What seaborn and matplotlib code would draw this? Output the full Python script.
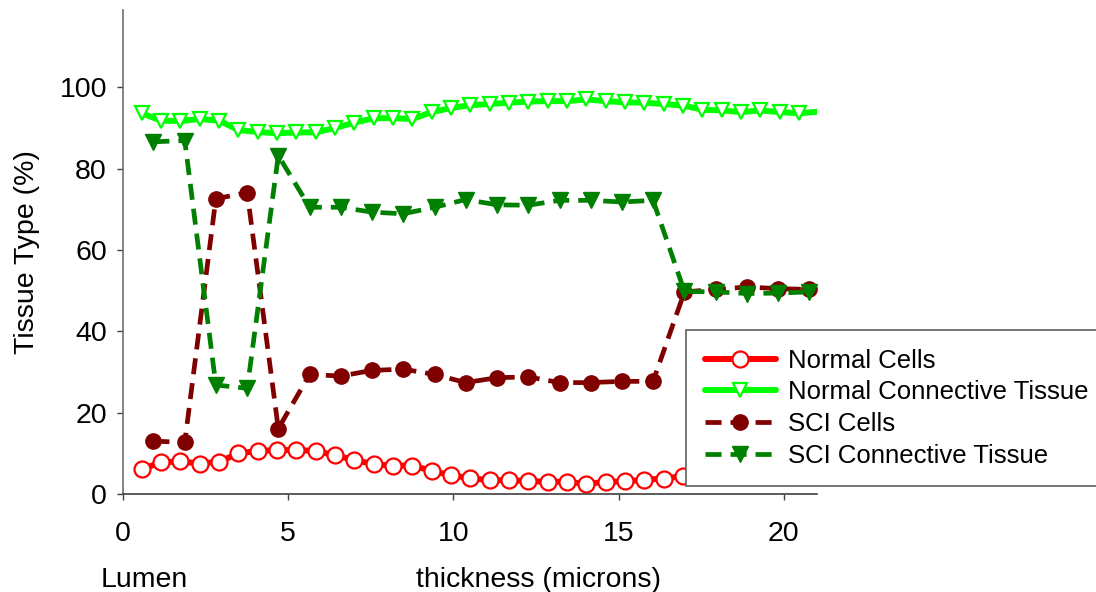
import matplotlib
matplotlib.use("Agg")
import matplotlib.pyplot as plt
import seaborn as sns
import pandas as pd

# Sampling positions across the tissue thickness (microns)
x_normal = [0.57, 1.15, 1.74, 2.32, 2.91, 3.49, 4.08, 4.66, 5.25, 5.83, 6.42, 7.00,
            7.59, 8.17, 8.76, 9.34, 9.93, 10.51, 11.10, 11.68, 12.27, 12.85, 13.44,
            14.02, 14.61, 15.19, 15.78, 16.36, 16.95, 17.53, 18.12, 18.70, 19.29,
            19.87, 20.46, 21.04]
x_sci = [0.92, 1.87, 2.81, 3.76, 4.70, 5.65, 6.59, 7.54, 8.48, 9.43, 10.37, 11.32,
         12.26, 13.21, 14.15, 15.10, 16.04, 16.99, 17.93, 18.88, 19.82, 20.77]

# Tissue type percentages
normal_cells = [6.1, 7.8, 8.0, 7.5, 7.9, 10.0, 10.6, 10.8, 10.8, 10.6, 9.5, 8.4,
                7.3, 7.0, 7.0, 5.7, 4.6, 3.9, 3.4, 3.4, 3.2, 3.0, 3.0, 2.5,
                3.0, 3.1, 3.5, 3.8, 4.4, 4.6, 4.8, 5.0, 5.1, 5.1, 5.2, 5.2]
normal_connective = [93.6, 91.8, 91.7, 92.2, 91.8, 89.5, 89.0, 88.7, 88.9, 88.9, 90.0,
                     91.3, 92.4, 92.4, 92.2, 93.9, 94.9, 95.6, 95.9, 96.2, 96.5, 96.6,
                     96.6, 97.0, 96.6, 96.3, 96.2, 95.9, 95.5, 94.5, 94.3, 93.9, 94.3,
                     93.9, 93.6, 94.0]
sci_cells = [13.0, 12.7, 72.6, 74.1, 16.1, 29.4, 29.0, 30.4, 30.7, 29.4, 27.4,
             28.6, 28.8, 27.4, 27.4, 27.7, 27.7, 49.7, 50.3, 50.9, 50.5, 50.3]
sci_connective = [86.6, 86.9, 26.8, 26.0, 83.2, 70.5, 70.5, 69.3, 68.9, 70.5, 72.4,
                  71.1, 71.0, 72.2, 72.2, 71.8, 72.2, 49.8, 49.7, 49.3, 49.4, 49.7]

series_labels = ["Normal Cells", "Normal Connective Tissue", "SCI Cells", "SCI Connective Tissue"]
x_ticks = [0, 5, 10, 15, 20]
y_ticks = [0, 20, 40, 60, 80, 100]

sns.set_theme(style="ticks")
plt.rcParams["font.family"] = ["Liberation Sans", "DejaVu Sans"]
plt.rcParams["text.color"] = "black"
plt.rcParams["axes.labelcolor"] = "black"

fig = plt.figure(figsize=(10.96, 5.92), dpi=100)
ax = fig.add_axes([0.1122, 0.1655, 0.6332, 0.8176])

normal_df = pd.DataFrame({"x": x_normal, "cells": normal_cells, "conn": normal_connective})
sci_df = pd.DataFrame({"x": x_sci, "cells": sci_cells, "conn": sci_connective})

styles = [
    (normal_df, "cells", series_labels[0], dict(color="#FF0000", marker="o", markersize=11.5,
                                               markerfacecolor="white", markeredgecolor="#FF0000",
                                               markeredgewidth=1.6, linewidth=4.3)),
    (normal_df, "conn", series_labels[1], dict(color="#00FF00", marker="v", markersize=10,
                                              markerfacecolor="white", markeredgecolor="#00FF00",
                                              markeredgewidth=1.6, linewidth=4.3)),
    (sci_df, "cells", series_labels[2], dict(color="#800000", marker="o", markersize=11,
                                            markerfacecolor="#800000", markeredgecolor="#800000",
                                            markeredgewidth=1, linewidth=3.4)),
    (sci_df, "conn", series_labels[3], dict(color="#008000", marker="v", markersize=11.5,
                                           markerfacecolor="#008000", markeredgecolor="#008000",
                                           markeredgewidth=1, linewidth=3.4)),
]

for df, col, label, kw in styles:
    sns.lineplot(data=df, x="x", y=col, ax=ax, label=label, estimator=None, sort=False, **kw)

lines = ax.get_lines()
for ln in lines[:2]:
    ln.set_solid_capstyle("round")
    ln.set_markevery(slice(0, 35))
for ln in lines[2:4]:
    ln.set_dashes([3.4, 1.9])

ax.set_xlim(0, 21)
ax.set_ylim(0, 119)
ax.set_xticks(x_ticks)
ax.set_yticks(y_ticks)

for side in ("top", "right"):
    ax.spines[side].set_visible(False)
ax.spines["left"].set_color("#707070")
ax.spines["bottom"].set_color("#404040")
for side in ("left", "bottom"):
    ax.spines[side].set_linewidth(1.2)

ax.tick_params(axis="both", direction="out", length=4.5, width=1.0, colors="#404040",
               labelcolor="black", labelsize=20.5)
ax.tick_params(axis="y", pad=7)
ax.tick_params(axis="x", pad=15)

ax.set_ylabel("Tissue Type (%)", fontsize=20.5, labelpad=14)
ax.set_xlabel("thickness (microns)", fontsize=20.5)
ax.xaxis.set_label_coords(0.599, -0.192)
ax.xaxis.label.set_va("baseline")
ax.text(0.031, -0.192, "Lumen", transform=ax.transAxes, fontsize=20.5,
        ha="center", va="baseline")

leg = ax.legend(loc="upper left", bbox_to_anchor=(686 / 1096, 1 - 330 / 592),
                bbox_transform=fig.transFigure, borderaxespad=0, fontsize=18.5,
                frameon=True, fancybox=False, framealpha=1, edgecolor="#606060",
                borderpad=0.72, labelspacing=0.3, handlelength=2.8, handletextpad=0.45,
                numpoints=1)
leg.get_frame().set_linewidth(1.2)

fig.savefig("out.png", dpi=100)
